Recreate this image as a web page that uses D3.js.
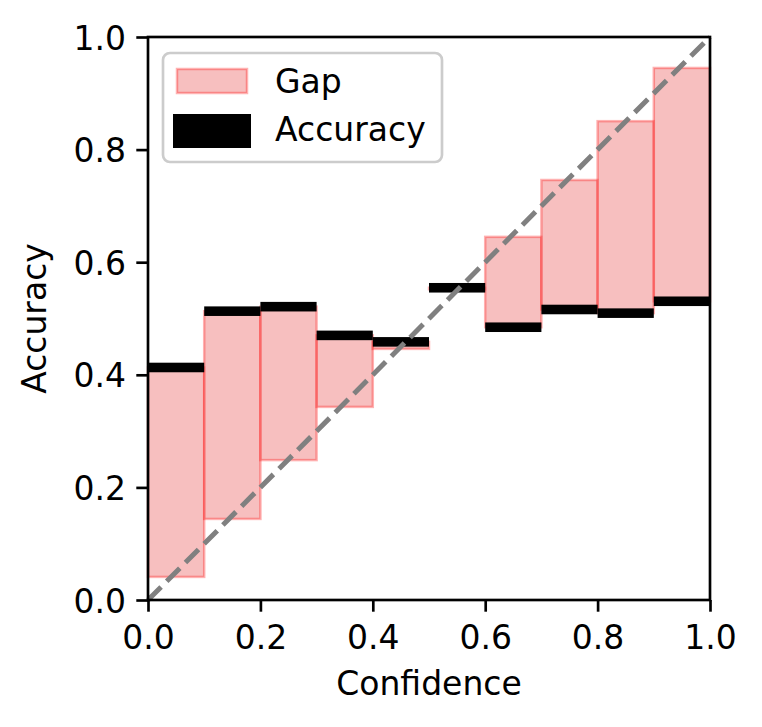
<!DOCTYPE html>
<html>
<head>
<meta charset="utf-8">
<script src="https://cdn.jsdelivr.net/npm/d3@7"></script>
<style>
  body { margin: 0; background: #fff; }
  text { font-family: "DejaVu Sans", sans-serif; fill: #000; }
</style>
</head>
<body>
<div id="chart"></div>
<script>
// reliability diagram data, one entry per confidence bin
var binStarts = [0.0, 0.1, 0.2, 0.3, 0.4, 0.5, 0.6, 0.7, 0.8, 0.9];
var accuracy = [0.413, 0.513, 0.521, 0.470, 0.4585, 0.5546, 0.4845, 0.516, 0.5095, 0.5306];
var confidence = [0.041, 0.144, 0.2485, 0.343, 0.446, 0.552, 0.645, 0.746, 0.8505, 0.945];
var tickValues = [0.0, 0.2, 0.4, 0.6, 0.8, 1.0];
var binWidth = 0.1;
var accThickness = 0.017;

var svgWidth = 762;
var svgHeight = 727;
var margin = { top: 37, right: 52, bottom: 127, left: 148 };
var width = svgWidth - margin.left - margin.right;
var height = svgHeight - margin.top - margin.bottom;

var svg = d3.select("#chart")
    .append("svg")
    .attr("width", svgWidth)
    .attr("height", svgHeight);

var chartGroup = svg.append("g")
    .attr("transform", `translate(${margin.left}, ${margin.top})`);

var xScale = d3.scaleLinear().domain([0, 1]).range([0, width]);
var yScale = d3.scaleLinear().domain([0, 1]).range([height, 0]);

var bins = binStarts.map(function(b, i) {
    return { start: b, acc: accuracy[i], conf: confidence[i] };
});

// Gap bars (between accuracy and confidence)
chartGroup.append("g")
    .selectAll("rect")
    .data(bins)
    .enter()
    .append("rect")
    .attr("x", d => xScale(d.start))
    .attr("width", d => xScale(d.start + binWidth) - xScale(d.start))
    .attr("y", d => yScale(Math.max(d.acc, d.conf)))
    .attr("height", d => Math.abs(yScale(d.acc) - yScale(d.conf)))
    .attr("fill", "lightcoral")
    .attr("fill-opacity", 0.5)
    .attr("stroke", "red")
    .attr("stroke-opacity", 0.3)
    .attr("stroke-width", 2.5);

// Accuracy bars
chartGroup.append("g")
    .selectAll("rect")
    .data(bins)
    .enter()
    .append("rect")
    .attr("x", d => xScale(d.start))
    .attr("width", d => xScale(d.start + binWidth) - xScale(d.start))
    .attr("y", d => yScale(d.acc + accThickness / 2))
    .attr("height", d => yScale(d.acc - accThickness / 2) - yScale(d.acc + accThickness / 2))
    .attr("fill", "black");

// perfect calibration line
chartGroup.append("line")
    .attr("x1", xScale(0))
    .attr("y1", yScale(0))
    .attr("x2", xScale(1))
    .attr("y2", yScale(1))
    .attr("stroke", "gray")
    .attr("stroke-width", 5)
    .attr("stroke-dasharray", "18.5,8");

// Axes
var bottomAxis = d3.axisBottom(xScale).tickValues(tickValues).tickFormat(d3.format(".1f"))
    .tickSize(11.7).tickPadding(11.7);
var leftAxis = d3.axisLeft(yScale).tickValues(tickValues).tickFormat(d3.format(".1f"))
    .tickSize(11.7).tickPadding(11.7);

var xAxisG = chartGroup.append("g")
    .attr("transform", `translate(0, ${height})`)
    .call(bottomAxis);
var yAxisG = chartGroup.append("g")
    .call(leftAxis);

[xAxisG, yAxisG].forEach(function(g) {
    g.select(".domain").remove();
    g.selectAll(".tick line").attr("stroke", "black").attr("stroke-width", 2.67);
    g.selectAll(".tick text")
        .attr("font-size", "33px")
        .attr("font-family", "DejaVu Sans, sans-serif")
        .attr("fill", "black");
});
xAxisG.selectAll(".tick text").attr("dy", "0").attr("y", 49);
yAxisG.selectAll(".tick text").attr("dy", "0").attr("y", 12).attr("x", -22);

// frame
chartGroup.append("rect")
    .attr("x", 0)
    .attr("y", 0)
    .attr("width", width)
    .attr("height", height)
    .attr("fill", "none")
    .attr("stroke", "black")
    .attr("stroke-width", 2.67);

// Axis labels
chartGroup.append("text")
    .attr("x", width / 2)
    .attr("y", height + 95)
    .attr("text-anchor", "middle")
    .attr("font-size", "33px")
    .text("Confidence");

chartGroup.append("text")
    .attr("transform", "rotate(-90)")
    .attr("x", -height / 2)
    .attr("y", 46 - margin.left)
    .attr("text-anchor", "middle")
    .attr("font-size", "33px")
    .text("Accuracy");

// Legend
var legend = svg.append("g").attr("transform", "translate(163, 53)");
legend.append("rect")
    .attr("width", 279)
    .attr("height", 109)
    .attr("rx", 7)
    .attr("fill", "white")
    .attr("fill-opacity", 0.8)
    .attr("stroke", "#cccccc")
    .attr("stroke-width", 2.67);
legend.append("rect")
    .attr("x", 14)
    .attr("y", 16)
    .attr("width", 70)
    .attr("height", 24)
    .attr("fill", "lightcoral")
    .attr("fill-opacity", 0.5)
    .attr("stroke", "red")
    .attr("stroke-opacity", 0.3)
    .attr("stroke-width", 2.5);
legend.append("rect")
    .attr("x", 10)
    .attr("y", 61)
    .attr("width", 78)
    .attr("height", 34)
    .attr("fill", "black");
legend.append("text")
    .attr("x", 112)
    .attr("y", 40)
    .attr("font-size", "33px")
    .text("Gap");
legend.append("text")
    .attr("x", 112)
    .attr("y", 88)
    .attr("font-size", "33px")
    .text("Accuracy");
</script>
</body>
</html>
